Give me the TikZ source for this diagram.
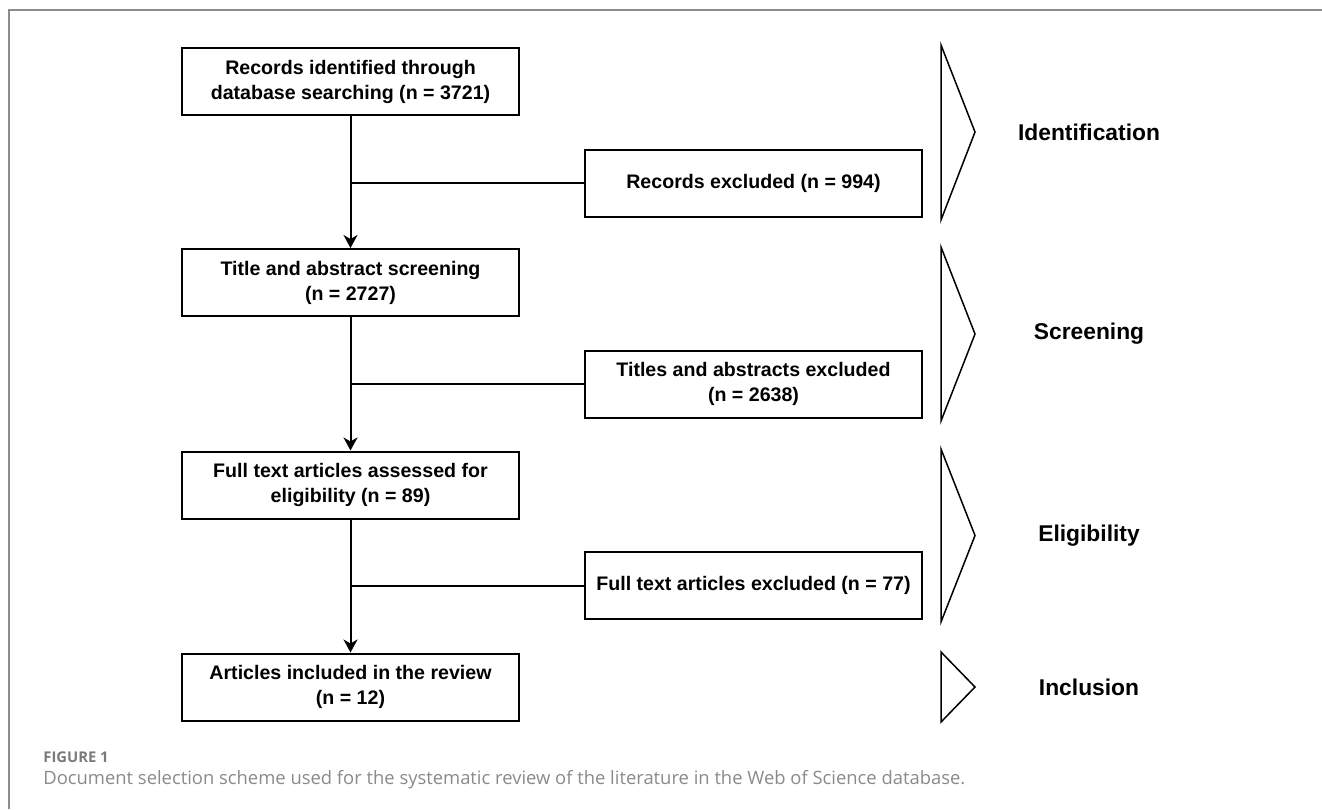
\documentclass[tikz,border=0pt]{standalone}
\usepackage{fontspec}
\setmainfont{Liberation Sans}
\newfontfamily\capfont{Open Sans}
\usetikzlibrary{arrows.meta}
\definecolor{framegray}{HTML}{8C8C8C}
\definecolor{figgray}{HTML}{7A7A7A}
\definecolor{capgray}{HTML}{8A8A8A}

\begin{document}
\begin{tikzpicture}[x=0.5pt, y=-0.5pt,
    stagebox/.style={draw, line width=1pt, minimum width=168.5pt, minimum height=33.5pt,
      inner sep=0pt, align=center, font=\bfseries\fontsize{9.8}{12.5}\selectfont},
    flowline/.style={line width=1pt},
    flowarrow/.style={flowline, -{Stealth[length=6.5pt, width=7pt, inset=2pt]}},
    phase/.style={line width=0.75pt},
    phaselabel/.style={font=\bfseries\fontsize{11.4}{13}\selectfont, inner sep=0pt}]
  \useasboundingbox (0,0) rectangle (1322,809);
  \draw[framegray, line width=1pt] (9,809) -- (9,10) -- (1322,10);

  \node[stagebox] (rec) at (350.5,81.5) {Records identified through\\database searching (n = 3721)};
  \node[stagebox] (scr) at (350.5,282.5) {Title and abstract screening\\(n = 2727)};
  \node[stagebox] (full) at (350.5,485) {Full text articles assessed for\\eligibility (n = 89)};
  \node[stagebox] (incl) at (350.5,687) {Articles included in the review\\(n = 12)};

  \node[stagebox] (exrec) at (753.5,183) {Records excluded (n = 994)};
  \node[stagebox] (exscr) at (753.5,384) {Titles and abstracts excluded\\(n = 2638)};
  \node[stagebox] (exfull) at (753.5,585.5) {Full text articles excluded (n = 77)};

  \draw[flowarrow] (rec) -- (scr);
  \draw[flowarrow] (scr) -- (full);
  \draw[flowarrow] (full) -- (incl);
  \draw[flowline] (exrec.west) -- (rec.south |- exrec.west);
  \draw[flowline] (exscr.west) -- (scr.south |- exscr.west);
  \draw[flowline] (exfull.west) -- (full.south |- exfull.west);

  \draw[phase] (941,45) -- (975,132) -- (941,220) -- cycle;
  \draw[phase] (941,247) -- (975,334) -- (941,421) -- cycle;
  \draw[phase] (941,449) -- (975,535.5) -- (941,622) -- cycle;
  \draw[phase] (941,652) -- (975,687) -- (941,722) -- cycle;
  \node[phaselabel] (ident) at (1089,132) {Identification};
  \node[phaselabel] (screen) at (1089,334) {Screening};
  \node[phaselabel] (elig) at (1089,535.5) {Eligibility};
  \node[phaselabel] (inclu) at (1089,687) {Inclusion};

  \node[anchor=base west, inner sep=0pt, text=figgray,
    font=\capfont\bfseries\fontsize{7.4}{9}\selectfont] (fig) at (43,762) {FIGURE 1};
  \node[anchor=base west, inner sep=0pt, text=capgray,
    font=\capfont\fontsize{9.2}{11}\selectfont] (caption) at (43,784)
    {Document selection scheme used for the systematic review of the literature in the Web of Science database.};
\end{tikzpicture}
\end{document}
